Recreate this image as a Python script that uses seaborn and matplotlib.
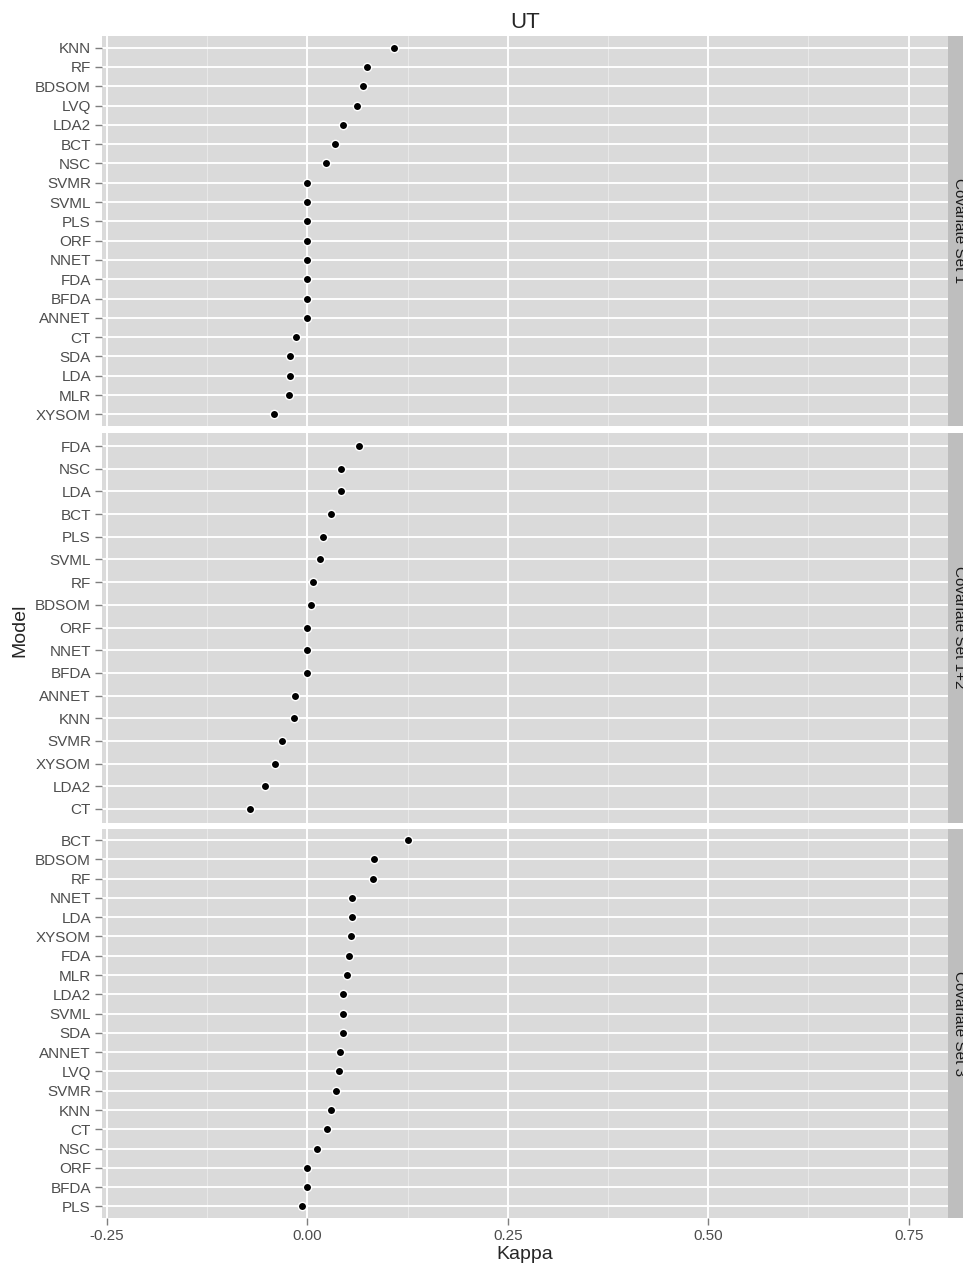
import numpy as np
import pandas as pd
import matplotlib
matplotlib.use('Agg')
import matplotlib.pyplot as plt
import seaborn as sns

# Kappa per model, ordered top to bottom as in each facet
set1_models = ['KNN', 'RF', 'BDSOM', 'LVQ', 'LDA2', 'BCT', 'NSC', 'SVMR', 'SVML', 'PLS',
               'ORF', 'NNET', 'FDA', 'BFDA', 'ANNET', 'CT', 'SDA', 'LDA', 'MLR', 'XYSOM']
set1_kappa = [0.108, 0.075, 0.069, 0.062, 0.045, 0.035, 0.023, 0.0, 0.0, 0.0,
              0.0, 0.0, 0.0, 0.0, 0.0, -0.014, -0.021, -0.021, -0.023, -0.042]

set12_models = ['FDA', 'NSC', 'LDA', 'BCT', 'PLS', 'SVML', 'RF', 'BDSOM', 'ORF', 'NNET',
                'BFDA', 'ANNET', 'KNN', 'SVMR', 'XYSOM', 'LDA2', 'CT']
set12_kappa = [0.065, 0.042, 0.042, 0.029, 0.019, 0.016, 0.007, 0.005, 0.0, 0.0,
               0.0, -0.015, -0.017, -0.031, -0.040, -0.053, -0.071]

set3_models = ['BCT', 'BDSOM', 'RF', 'NNET', 'LDA', 'XYSOM', 'FDA', 'MLR', 'LDA2', 'SVML',
               'SDA', 'ANNET', 'LVQ', 'SVMR', 'KNN', 'CT', 'NSC', 'ORF', 'BFDA', 'PLS']
set3_kappa = [0.126, 0.083, 0.082, 0.056, 0.056, 0.054, 0.052, 0.049, 0.045, 0.045,
              0.045, 0.041, 0.039, 0.036, 0.029, 0.025, 0.012, 0.0, 0.0, -0.007]

facets = [('Covariate Set 1', set1_models, set1_kappa),
          ('Covariate Set 1+2', set12_models, set12_kappa),
          ('Covariate Set 3', set3_models, set3_kappa)]

sns.set_style('white')
plt.rcParams['font.family'] = ['Liberation Sans', 'DejaVu Sans']

W, H = 963, 1266
fig = plt.figure(figsize=(W / 100, H / 100), dpi=100)

# panel pixel boxes (top, bottom)
boxes = [(36, 426), (432.5, 822.5), (828.5, 1218)]
left, right = 102, 948
xticks = [-0.25, 0.0, 0.25, 0.5, 0.75]
minor = [-0.125, 0.125, 0.375, 0.625]

for i, ((name, models, kappa), (top, bot)) in enumerate(zip(facets, boxes)):
    ax = fig.add_axes([left / W, 1 - bot / H, (right - left) / W, (bot - top) / H])
    ax.set_facecolor('#DADADA')
    df = pd.DataFrame({'Model': models, 'Kappa': kappa})
    for m in minor:
        ax.axvline(m, color='#E8E8E8', lw=0.8, zorder=0)
    for t in xticks:
        ax.axvline(t, color='white', lw=1.4, zorder=0)
    for j in range(len(models)):
        ax.axhline(j, color='white', lw=1.4, zorder=0)
    sns.stripplot(data=df, x='Kappa', y='Model', order=models, jitter=False,
                  color='black', edgecolor='white', linewidth=1.0, size=6, ax=ax, zorder=3)
    ax.set_xlim(-0.256, 0.799)
    ax.set_ylim(len(models) - 0.4, -0.6)
    ax.set_xticks(xticks)
    for s in ax.spines.values():
        s.set_visible(False)
    ax.tick_params(axis='y', length=5, width=1, color='#7F7F7F', labelcolor='#4D4D4D',
                   labelsize=11, pad=3, left=True)
    ax.grid(False)
    if i < 2:
        ax.tick_params(axis='x', bottom=False, labelbottom=False)
        ax.set_xlabel('')
    else:
        ax.tick_params(axis='x', length=5, width=1, color='#7F7F7F', labelcolor='#4D4D4D',
                       labelsize=11, pad=3, bottom=True)
        ax.set_xticklabels(['-0.25', '0.00', '0.25', '0.50', '0.75'])
        ax.set_xlabel('Kappa', fontsize=14, labelpad=2)
    ax.set_ylabel('')

    # facet strip on the right, clipped by figure edge
    sax = fig.add_axes([right / W, 1 - bot / H, 22 / W, (bot - top) / H])
    sax.set_facecolor('#BEBEBE')
    sax.set_xticks([])
    sax.set_yticks([])
    for s in sax.spines.values():
        s.set_visible(False)
    sax.text(0.5, 0.5, name, rotation=-90, ha='center', va='center',
             fontsize=11, color='#1A1A1A', transform=sax.transAxes)

fig.text(20 / W, 1 - 630 / H, 'Model', rotation=90, ha='center', va='center', fontsize=14)
fig.text(525 / W, 1 - 22 / H, 'UT', ha='center', va='center', fontsize=16)

fig.savefig('out.png', dpi=100)
